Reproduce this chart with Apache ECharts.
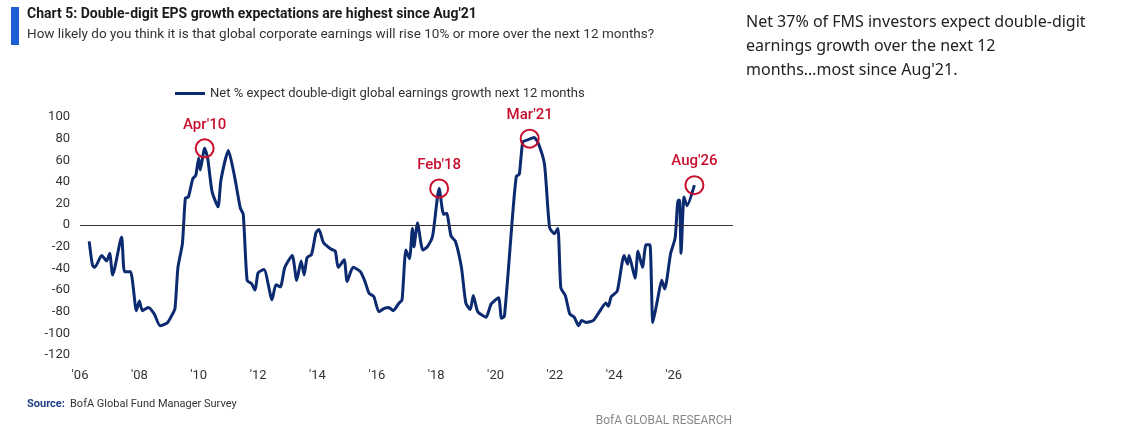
<!DOCTYPE html>
<html><head><meta charset="utf-8">
<script src="https://cdn.jsdelivr.net/npm/echarts@6/dist/echarts.min.js"></script>
<style>body{margin:0}#c{width:1130px;height:440px}</style>
</head><body><div id="c"></div>
<script>
// decimal year, net % expecting double-digit EPS growth
var years = [2006.31,2006.42,2006.5,2006.73,2006.9,2007.0,2007.1,2007.4,2007.5,2007.7,2007.9,2008.0,2008.1,2008.3,2008.5,2008.7,2008.95,2009.1,2009.2,2009.3,2009.45,2009.55,2009.65,2009.8,2009.9,2010.0,2010.05,2010.2,2010.3,2010.45,2010.65,2010.75,2011.0,2011.2,2011.4,2011.5,2011.63,2011.78,2011.9,2012.0,2012.2,2012.47,2012.6,2012.75,2012.9,2013.15,2013.3,2013.45,2013.55,2013.65,2013.8,2013.95,2014.05,2014.2,2014.45,2014.6,2014.7,2014.9,2015.0,2015.2,2015.45,2015.6,2015.74,2015.9,2016.07,2016.25,2016.4,2016.55,2016.75,2016.85,2016.98,2017.1,2017.2,2017.25,2017.37,2017.55,2017.7,2017.88,2018.1,2018.25,2018.35,2018.5,2018.65,2018.85,2019.0,2019.15,2019.25,2019.4,2019.68,2019.85,2020.1,2020.2,2020.3,2020.58,2020.7,2020.8,2020.92,2021.1,2021.3,2021.45,2021.65,2021.82,2021.98,2022.1,2022.2,2022.35,2022.5,2022.65,2022.8,2022.9,2023.05,2023.3,2023.5,2023.72,2023.8,2023.9,2024.1,2024.33,2024.45,2024.5,2024.7,2024.8,2024.95,2025.07,2025.2,2025.3,2025.45,2025.6,2025.7,2025.9,2026.05,2026.15,2026.2,2026.25,2026.35,2026.45,2026.7];
var netPct = [-15,-37,-39,-28,-33,-26,-46,-11,-43,-43,-79,-70,-79,-76,-82,-93,-90,-83,-77,-39,-17,25,26,43,46,62,51,71,62,31,17,42,69,46,16,10,-51,-54,-60,-44,-41,-69,-55,-57,-39,-28,-51,-33,-46,-30,-27,-7,-4,-16,-22,-24,-39,-32,-52,-39,-43,-52,-63,-66,-80,-77,-76,-79,-72,-69,-23,-31,-3,-20,2,-23,-20,-10,34,10,11,-10,-15,-39,-72,-78,-65,-80,-85,-73,-67,-86,-84,11,45,47,77,79,81,75,56,-2,-8,-3,-58,-65,-82,-85,-93,-88,-90,-88,-80,-72,-75,-66,-61,-28,-36,-28,-49,-24,-39,-18,-18,-90,-70,-51,-59,-26,-12,23,23,-26,26,18,37];
var callouts = [['Apr\'10',2010.2,71],['Feb\'18',2018.1,34],['Mar\'21',2021.15,80],['Aug\'26',2026.7,37]];
var seriesName = 'Net % expect double-digit global earnings growth next 12 months';

var chart = echarts.init(document.getElementById('c'));
var font = 'Roboto';
chart.setOption({
  textStyle: {fontFamily: font},
  graphic: [
    {type:'rect', shape:{x:11,y:7,width:8,height:38}, style:{fill:'#1f5fd6'}},
    {type:'text', left:27, top:7, style:{text:'Chart 5: Double-digit EPS growth expectations are highest since Aug\'21', font:'bold 14px Roboto', fill:'#1a1a1a'}},
    {type:'text', left:27, top:28, style:{text:'How likely do you think it is that global corporate earnings will rise 10% or more over the next 12 months?', font:'13.5px Roboto', fill:'#333'}},
    {type:'text', left:746, top:10, style:{text:'Net 37% of FMS investors expect double-digit\nearnings growth over the next 12\nmonths\u2026most since Aug\'21.', font:'16px "Noto Sans"', fill:'#222', lineHeight:24}},
    {type:'text', left:27, top:399, style:{text:'Source:', font:'bold 11px Roboto', fill:'#1f3f8a'}},
    {type:'text', left:70, top:399, style:{text:'BofA Global Fund Manager Survey', font:'11px Roboto', fill:'#333'}},
    {type:'text', right:398, top:415, style:{text:'BofA GLOBAL RESEARCH', font:'12px Roboto', fill:'#888', align:'right'}}
  ],
  legend: {top:82, left:170, itemWidth:30, itemHeight:3, icon:'rect',
    textStyle:{fontSize:13, color:'#333', fontFamily:font}},
  grid: {left:80, right:397, top:117, bottom:85},
  xAxis: {type:'value', min:2006, max:2028, interval:2,
    axisLine:{show:false}, axisTick:{show:false}, splitLine:{show:false},
    axisLabel:{margin:14, color:'#333', fontSize:13, formatter:function(v){return v>2027?'':"'"+String(v).slice(2);}}},
  yAxis: {type:'value', min:-120, max:100, interval:20,
    axisLine:{show:false}, axisTick:{show:false}, splitLine:{show:false},
    axisLabel:{color:'#333', fontSize:13, margin:10}},
  series: [{
    name: seriesName, type:'line', symbol:'none', smooth:0.2,
    data: years.map(function(y,i){return [y, netPct[i]];}),
    lineStyle:{color:'#0b2a6f', width:3}, itemStyle:{color:'#0b2a6f'},
    markLine:{silent:true, symbol:'none', label:{show:false},
      lineStyle:{color:'#333', width:1.2, type:'solid'}, data:[{yAxis:0}]},
    markPoint:{symbol:'circle', symbolSize:18,
      itemStyle:{color:'rgba(0,0,0,0)', borderColor:'#c8102e', borderWidth:2},
      label:{show:true, position:'top', distance:6, color:'#c8102e', fontSize:15, fontFamily:font, fontWeight:500},
      data: callouts.map(function(c){return {name:c[0], coord:[c[1],c[2]], value:c[0]};})
    }
  }]
});
</script></body></html>
